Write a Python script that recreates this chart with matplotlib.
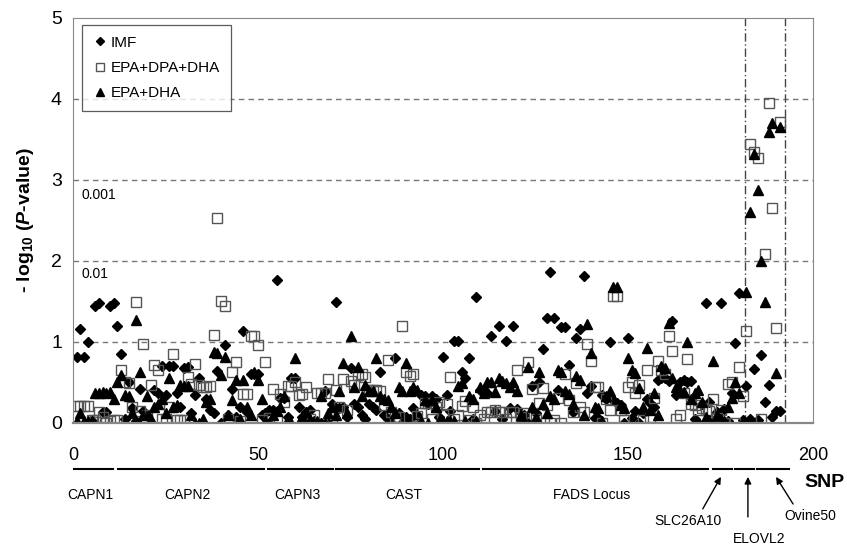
import numpy as np
import matplotlib
matplotlib.use("Agg")
import matplotlib.pyplot as plt

plt.rcParams['font.family'] = ['Liberation Sans', 'DejaVu Sans']
plt.rcParams['mathtext.fontset'] = 'custom'
plt.rcParams['mathtext.rm'] = 'Liberation Sans:bold'
plt.rcParams['mathtext.it'] = 'Liberation Sans:italic:bold'
plt.rcParams['mathtext.bf'] = 'Liberation Sans:bold'

# -log10(P) per SNP, SNP 1..191
imf = [0.82, 1.16, 0.82, 1.00, 0.03, 1.44, 1.48, 0.14, 0.14, 1.45,
       1.48, 1.20, 0.85, 0.05, 0.50, 0.18, 0.02, 0.42, 0.15, 0.10,
       0.00, 0.41, 0.37, 0.70, 0.35, 0.70, 0.70, 0.37, 0.20, 0.68,
       0.69, 0.12, 0.35, 0.55, 0.00, 0.30, 0.16, 0.12, 0.64, 0.00,
       0.96, 0.10, 0.42, 0.07, 0.20, 1.14, 0.14, 0.61, 0.61, 0.61,
       0.10, 0.12, 0.16, 0.16, 1.77, 0.31, 0.31, 0.08, 0.56, 0.56,
       0.20, 0.08, 0.14, 0.16, 0.03, 0.00, 0.00, 0.40, 0.00, 0.23,
       1.49, 0.18, 0.20, 0.08, 0.68, 0.24, 0.20, 0.10, 0.05, 0.24,
       0.20, 0.16, 0.63, 0.10, 0.05, 0.00, 0.80, 0.12, 0.00, 0.08,
       0.05, 0.19, 0.10, 0.35, 0.33, 0.24, 0.33, 0.30, 0.08, 0.81,
       0.35, 0.15, 1.01, 1.01, 0.63, 0.55, 0.80, 0.05, 1.55, 0.41,
       0.41, 0.37, 1.07, 0.15, 1.20, 0.05, 1.01, 0.19, 1.20, 0.17,
       0.02, 0.10, 0.00, 0.46, 0.12, 0.51, 0.91, 1.30, 1.86, 1.30,
       0.41, 1.18, 1.18, 0.72, 0.14, 1.05, 1.16, 1.81, 0.37, 0.46,
       0.06, 0.06, 0.35, 0.30, 1.00, 0.28, 0.25, 0.22, 0.00, 1.05,
       0.06, 0.15, 0.00, 0.12, 0.30, 0.25, 0.20, 0.53, 0.55, 0.55,
       0.52, 1.26, 0.35, 0.51, 0.53, 0.51, 0.52, 0.05, 0.00, 0.24,
       1.48, 0.26, 0.00, 0.14, 1.48, 0.17, 0.03, 0.37, 0.99, 1.61,
       0.04, 0.46, 0.05, 0.67, 0.04, 0.84, 0.26, 0.47, 0.07, 0.15, 0.15]

epa_dpa_dha = [0.21, 0.21, 0.21, 0.21, 0.04, 0.04, 0.13, 0.08, 0.00, 0.03,
               0.04, 0.04, 0.65, 0.51, 0.49, 0.20, 1.49, 0.15, 0.97, 0.10,
               0.47, 0.71, 0.65, 0.05, 0.05, 0.20, 0.85, 0.04, 0.04, 0.04,
               0.57, 0.48, 0.73, 0.47, 0.45, 0.45, 0.46, 1.09, 2.53, 1.50,
               1.44, 0.05, 0.63, 0.75, 0.03, 0.36, 0.36, 1.08, 1.08, 0.96,
               0.04, 0.75, 0.06, 0.42, 0.05, 0.36, 0.26, 0.46, 0.46, 0.50,
               0.35, 0.36, 0.45, 0.05, 0.10, 0.37, 0.37, 0.37, 0.54, 0.08,
               0.41, 0.20, 0.54, 0.16, 0.52, 0.47, 0.59, 0.61, 0.57, 0.41,
               0.41, 0.41, 0.39, 0.22, 0.78, 0.14, 0.08, 0.07, 1.20, 0.63,
               0.58, 0.61, 0.09, 0.12, 0.25, 0.25, 0.05, 0.20, 0.26, 0.10,
               0.24, 0.57, 0.05, 0.10, 0.21, 0.27, 0.04, 0.20, 0.00, 0.10,
               0.05, 0.13, 0.14, 0.16, 0.14, 0.13, 0.05, 0.13, 0.14, 0.65,
               0.08, 0.12, 0.75, 0.42, 0.05, 0.25, 0.43, 0.22, 0.00, 0.04,
               0.31, 0.00, 0.60, 0.28, 0.14, 0.49, 0.20, 0.14, 0.98, 0.76,
               0.45, 0.45, 0.00, 0.30, 0.16, 1.57, 1.57, 0.16, 0.04, 0.45,
               0.51, 0.37, 0.47, 0.04, 0.65, 0.08, 0.31, 0.76, 0.65, 0.61,
               1.07, 0.89, 0.05, 0.10, 0.37, 0.79, 0.24, 0.22, 0.16, 0.18,
               0.16, 0.15, 0.30, 0.06, 0.16, 0.00, 0.48, 0.50, 0.00, 0.69,
               0.33, 1.13, 3.44, 3.34, 3.27, 0.05, 2.09, 3.95, 2.65, 1.17, 3.71]

epa_dha = [0.02, 0.12, 0.02, 0.02, 0.02, 0.37, 0.37, 0.38, 0.37, 0.38,
           0.30, 0.51, 0.59, 0.35, 0.33, 0.12, 1.27, 0.63, 0.10, 0.33,
           0.05, 0.20, 0.24, 0.30, 0.12, 0.55, 0.20, 0.22, 0.47, 0.46,
           0.46, 0.10, 0.00, 0.00, 0.05, 0.26, 0.30, 0.88, 0.87, 0.59,
           0.82, 0.10, 0.28, 0.53, 0.05, 0.53, 0.20, 0.10, 0.63, 0.53,
           0.30, 0.02, 0.00, 0.10, 0.15, 0.20, 0.33, 0.05, 0.00, 0.80,
           0.00, 0.08, 0.14, 0.05, 0.00, 0.02, 0.33, 0.00, 0.12, 0.20,
           0.10, 0.40, 0.74, 0.12, 1.07, 0.45, 0.69, 0.33, 0.47, 0.40,
           0.40, 0.80, 0.33, 0.30, 0.28, 0.20, 0.12, 0.45, 0.40, 0.74,
           0.40, 0.45, 0.41, 0.02, 0.29, 0.00, 0.28, 0.20, 0.02, 0.02,
           0.02, 0.02, 0.02, 0.46, 0.49, 0.02, 0.33, 0.30, 0.02, 0.45,
           0.37, 0.50, 0.51, 0.38, 0.56, 0.52, 0.49, 0.45, 0.50, 0.39,
           0.10, 0.00, 0.69, 0.20, 0.08, 0.63, 0.24, 0.12, 0.33, 0.30,
           0.66, 0.63, 0.39, 0.36, 0.24, 0.58, 0.53, 0.10, 1.22, 0.87,
           0.20, 0.18, 0.02, 0.33, 0.39, 1.68, 1.68, 0.22, 0.18, 0.80,
           0.65, 0.62, 0.43, 0.20, 0.92, 0.16, 0.37, 0.10, 0.70, 0.68,
           1.24, 0.55, 0.45, 0.40, 0.38, 1.00, 0.30, 0.37, 0.41, 0.26,
           0.08, 0.04, 0.76, 0.10, 0.05, 0.02, 0.20, 0.31, 0.51, 0.37,
           0.03, 1.62, 2.61, 3.32, 2.88, 2.00, 1.49, 3.59, 3.70, 0.62, 3.65]

snp = np.arange(1, len(imf) + 1)

# gene regions along the SNP axis
genes = ["CAPN1", "CAPN2", "CAPN3", "CAST", "FADS Locus"]
gene_start = [0.3, 12.1, 52.8, 71, 110.7]
gene_end = [10.9, 51.7, 70.3, 109.6, 171.5]
small_start = [172.9, 178.9, 184.8]
small_end = [178.1, 184.0, 193.5]
vlines_x = [181.5, 192.5]

fig = plt.figure(figsize=(8.47, 5.47), dpi=100)
ax = fig.add_axes([0.0862, 0.2267, 0.8737, 0.7404])

ax.plot(snp, imf, linestyle='none', marker='D', ms=5.5, color='black', label='IMF')
ax.plot(snp, epa_dpa_dha, linestyle='none', marker='s', ms=7.5, mfc='none',
        mec='#555555', mew=1.0, label='EPA+DPA+DHA')
ax.plot(snp, epa_dha, linestyle='none', marker='^', ms=7.5, color='black', label='EPA+DHA')

for yv in [1, 2, 3, 4]:
    ax.axhline(yv, color='#777777', lw=1, ls=(0, (4, 3)), zorder=0)
for xv in vlines_x:
    ax.axvline(xv, color='#444444', lw=1, ls=(0, (6, 2, 1, 2)), zorder=0)

ax.set_xlim(0, 200)
ax.set_ylim(0, 5)
ax.set_xticks([0, 50, 100, 150, 200])
ax.set_yticks([0, 1, 2, 3, 4, 5])
ax.tick_params(axis='x', length=0, pad=17, labelsize=13)
ax.tick_params(axis='y', length=0, pad=8, labelsize=14)
for s in ax.spines.values():
    s.set_color('#888888')
ax.spines['bottom'].set_linewidth(1.6)

ax.set_ylabel(r'- log$_{\mathrm{10}}$ ($\mathit{P}$-value)', fontsize=14,
              fontweight='bold', labelpad=11)

ax.text(2.4, 2.81, "0.001", fontsize=10, va='center')
ax.text(2.4, 1.84, "0.01", fontsize=10, va='center')

leg = ax.legend(loc='upper left', bbox_to_anchor=(0.012, 0.983), borderaxespad=0,
                fontsize=11, frameon=True, fancybox=False, handletextpad=0.2,
                labelspacing=0.75, handlelength=1.0, borderpad=0.7, markerscale=0.75)
leg.get_frame().set_edgecolor('#333333')
leg.get_frame().set_linewidth(0.9)

# gene segments under the axis
trans = ax.get_xaxis_transform()
for g, a, b in zip(genes, gene_start, gene_end):
    ax.plot([a, b], [-0.113, -0.113], color='black', lw=1.5, transform=trans, clip_on=False)
    ax.text((a + b) / 2 - 1, -0.178, g, fontsize=10, ha='center', va='center',
            transform=trans, clip_on=False)
for a, b in zip(small_start, small_end):
    ax.plot([a, b], [-0.113, -0.113], color='black', lw=1.5, transform=trans, clip_on=False)

ax.text(203.2, -0.148, "SNP", fontsize=14, fontweight='bold', ha='center', va='center',
        transform=trans, clip_on=False)

arrow = dict(arrowstyle='-|>', color='black', lw=1, mutation_scale=10, shrinkA=0, shrinkB=0)
labels = ["SLC26A10", "ELOVL2", "Ovine50"]
label_xy = [(166.2, -0.242), (185.4, -0.286), (199.2, -0.23)]
tail_xy = [(170.2, -0.212), (182.4, -0.232), (194.6, -0.2)]
head_xy = [(175.1, -0.133), (182.4, -0.133), (190.0, -0.133)]
for lab, lxy, txy, hxy in zip(labels, label_xy, tail_xy, head_xy):
    ax.text(lxy[0], lxy[1], lab, fontsize=10, ha='center', va='center',
            transform=trans, clip_on=False)
    ax.annotate("", xy=hxy, xycoords=trans, xytext=txy, textcoords=trans,
                arrowprops=arrow)

fig.savefig("out.png", dpi=100)
